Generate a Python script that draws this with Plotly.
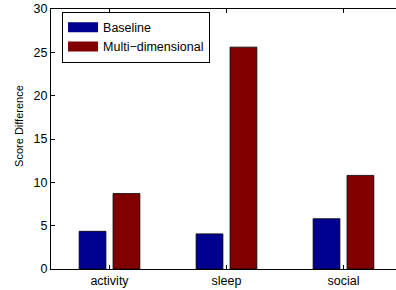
import plotly.graph_objects as go

categories = ["activity", "sleep", "social"]
baseline = [4.35, 4.05, 5.8]
multi = [8.7, 25.6, 10.8]
series_names = ["Baseline", "Multi\u2212dimensional"]
y_ticks = [0, 5, 10, 15, 20, 25, 30]

blue = "#00008F"
red = "#800000"
xpos = [1, 2, 3]

fig = go.Figure()
fig.add_trace(go.Bar(x=xpos, y=baseline, marker=dict(color=blue, line=dict(color="black", width=0.8)),
                     showlegend=False, name=series_names[0]))
fig.add_trace(go.Bar(x=xpos, y=multi, marker=dict(color=red, line=dict(color="black", width=0.8)),
                     showlegend=False, name=series_names[1]))
# legend entries (wide patches like the original)
for nm, col in zip(series_names, [blue, red]):
    fig.add_trace(go.Scatter(x=[None], y=[None], mode="lines", name=nm,
                             line=dict(color=col, width=14)))

font = "Liberation Sans, Arial, Helvetica, sans-serif"
fig.update_layout(
    width=396, height=290,
    margin=dict(l=51, r=0, t=9, b=21),
    plot_bgcolor="white", paper_bgcolor="white",
    barmode="group", bargap=0.42, bargroupgap=0.21,
    font=dict(family=font, size=12, color="black"),
    legend=dict(x=0.032, y=0.99, xanchor="left", yanchor="top",
                bordercolor="black", borderwidth=1, bgcolor="white",
                font=dict(size=12.5), itemwidth=30, tracegroupgap=0,
                traceorder="normal"),
    xaxis=dict(range=[0.5, 3.449], tickvals=xpos, ticktext=categories,
               showline=True, linecolor="black", linewidth=1, mirror="ticks",
               ticks="inside", ticklen=4, tickcolor="black", showgrid=False,
               zeroline=False, tickfont=dict(size=12.5)),
    yaxis=dict(range=[0, 30], tickvals=y_ticks, showline=True, linecolor="black",
               linewidth=1, ticks="inside", ticklen=4, tickcolor="black",
               showgrid=False, zeroline=False, tickfont=dict(size=12.5)),
    annotations=[dict(text="Score Difference", xref="paper", yref="paper",
                      x=-0.093, y=0.55, xanchor="center", yanchor="middle",
                      textangle=-90, showarrow=False, font=dict(size=11, color="black"))],
)
fig.write_html("out.html", config={"displayModeBar": False},
               post_script="document.body.style.margin='0';document.body.style.overflow='hidden';")
